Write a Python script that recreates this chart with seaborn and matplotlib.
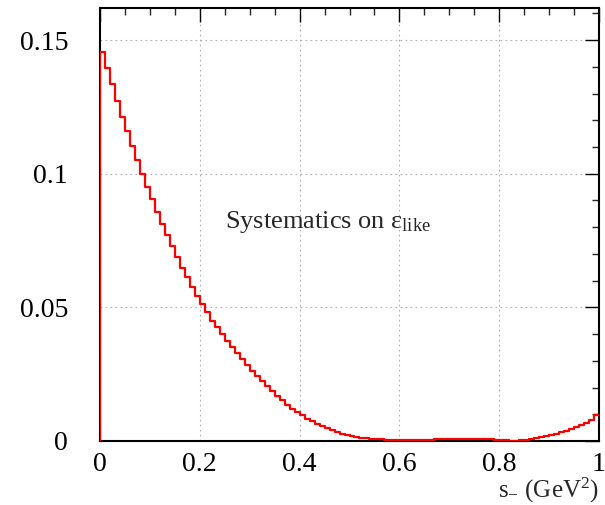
import numpy as np
import pandas as pd
import matplotlib
matplotlib.use("Agg")
import matplotlib.pyplot as plt
import seaborn as sns
from matplotlib.ticker import MultipleLocator

# bin edges / values (100 bins on [0,1])
bin_edges = [i / 100 for i in range(101)]
values = [
    0.1456, 0.1394, 0.1334, 0.1271, 0.1212, 0.1160, 0.1103, 0.1053, 0.1000, 0.0950,
    0.0906, 0.0856, 0.0812, 0.0771, 0.0729, 0.0687, 0.0648, 0.0612, 0.0577, 0.0544,
    0.0512, 0.0481, 0.0450, 0.0425, 0.0400, 0.0375, 0.0352, 0.0331, 0.0306, 0.0285,
    0.0263, 0.0244, 0.0225, 0.0206, 0.0188, 0.0169, 0.0152, 0.0136, 0.0120, 0.0108,
    0.0096, 0.0084, 0.0073, 0.0063, 0.0055, 0.0047, 0.0040, 0.0034, 0.0028, 0.0023,
    0.0019, 0.0015, 0.0012, 0.0010, 0.0008, 0.0007, 0.0006, 0.0005, 0.0005, 0.0004,
    0.0004, 0.0004, 0.0004, 0.0004, 0.0005, 0.0005, 0.0005, 0.0006, 0.0006, 0.0006,
    0.0006, 0.0007, 0.0007, 0.0008, 0.0009, 0.0009, 0.0008, 0.0007, 0.0006, 0.0005,
    0.0004, 0.0003, 0.0001, 0.0000, 0.0002, 0.0004, 0.0007, 0.0010, 0.0014, 0.0018,
    0.0022, 0.0027, 0.0032, 0.0038, 0.0044, 0.0051, 0.0059, 0.0068, 0.0080, 0.0096,
]
x_ticks = [0, 0.2, 0.4, 0.6, 0.8, 1.0]
x_tick_labels = ["0", "0.2", "0.4", "0.6", "0.8", "1"]
y_ticks = [0, 0.05, 0.1, 0.15]
y_tick_labels = ["0", "0.05", "0.1", "0.15"]

centers = [(bin_edges[i] + bin_edges[i + 1]) / 2 for i in range(len(values))]
df = pd.DataFrame({"x": centers, "w": values})

sns.set_style("white")
plt.rcParams["font.family"] = ["Liberation Serif", "DejaVu Serif"]
plt.rcParams["mathtext.fontset"] = "custom"
plt.rcParams["mathtext.rm"] = "Liberation Serif"
plt.rcParams["mathtext.it"] = "Liberation Serif:italic"

fig = plt.figure(figsize=(6.05, 5.05), dpi=100)
ax = fig.add_axes([100 / 605, 1 - 441 / 505, 499 / 605, 433 / 505])

sns.histplot(data=df, x="x", weights="w", bins=bin_edges, element="step",
             fill=False, color="#ff0000", linewidth=1.6, ax=ax, zorder=3)
ax.vlines([bin_edges[0]], 0, values[0], color="#ff0000", lw=1.6, zorder=3)

ax.set_xlim(0, 1)
ax.set_ylim(0, 0.162)
ax.set_xticks(x_ticks)
ax.set_xticklabels(x_tick_labels)
ax.set_yticks(y_ticks)
ax.set_yticklabels(y_tick_labels)
ax.xaxis.set_minor_locator(MultipleLocator(0.05))
ax.yaxis.set_minor_locator(MultipleLocator(0.01))
ax.tick_params(axis="both", which="major", direction="in", length=10, width=1,
               top=True, right=True, labelsize=20, colors="black")
ax.tick_params(axis="both", which="minor", direction="in", length=5, width=1,
               top=True, right=True)
ax.tick_params(axis="x", which="major", pad=8)
ax.tick_params(axis="y", which="major", pad=23)
ax.grid(True, which="major", linestyle=(0, (1.5, 3)), color="#b0b0b0", linewidth=0.8)

for sp in ax.spines.values():
    sp.set_color("black")
    sp.set_linewidth(1.5)

ax.set_ylabel("")
ax.set_xlabel("")
fig.text(599 / 605, 0.0, r"s$_{-}$ (GeV$^{2}$)", ha="right",
         va="bottom", fontsize=18)
ax.text(0.25, 0.082, r"Systematics on ε$_{\mathrm{like}}$", fontsize=19,
        ha="left", va="center")

fig.savefig("out.png", dpi=100)
